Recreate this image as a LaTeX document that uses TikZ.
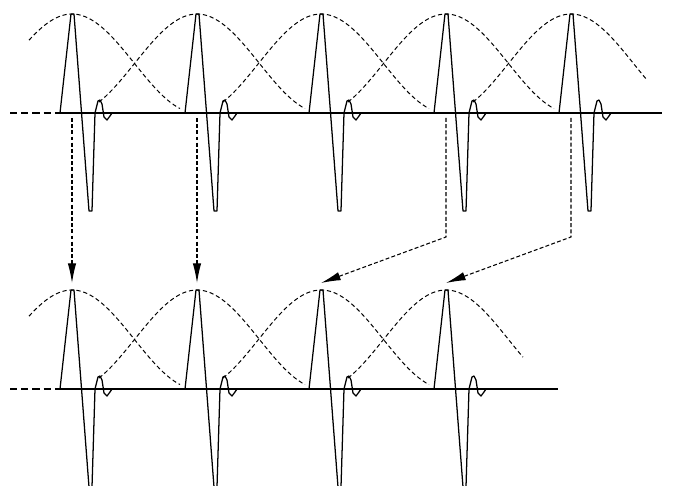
\documentclass[tikz,border=0pt]{standalone}
\usetikzlibrary{arrows.meta}

\begin{document}
\begin{tikzpicture}[
    x=0.025cm, y=0.025cm,
    pulse/.style={line width=0.9pt, line join=round},
    window/.style={line width=0.7pt, dash pattern=on 3pt off 2pt},
    axis/.style={line width=0.9pt},
    axisdash/.style={axis, dash pattern=on 5pt off 3pt},
    shiftline/.style={line width=0.75pt, dash pattern=on 2.8pt off 1.6pt, -{Latex[length=14pt,width=6pt]}},
    pics/wavelet/.style={code={
        \draw[pulse] (-12,0) -- (-1,99) -- (2,99) -- (17,-98) -- (20,-98) -- (23,0)
            -- (26,12) -- (28,13) -- (30,9) -- (32,-4) -- (35,-7) -- (38,-3) -- (40,0);
    }}
]
    \clip (0,0) rectangle (687,486);

    % Baselines
    \draw[axisdash] (10,373) -- (59,373);
    \draw[axis] (59,373) -- (662,373);
    \draw[axisdash] (10,97) -- (59,97);
    \draw[axis] (59,97) -- (558,97);

    % Upper row: windows and pulses
    \foreach \c/\a/\b [count=\i] in {72/-43/108, 197/-98/108, 321/-98/108, 446/-98/108, 571/-98/76} {
        \draw[window] plot[domain=\a:\b, samples=60] ({\c+\x}, {373+49.5*(1+cos(1.44*\x))});
        \pic at (\c,373) {wavelet};
        \coordinate (src\i) at (\c,368);
        \coordinate (knee\i) at (\c,249);
    }

    % Lower row: windows and pulses
    \foreach \c/\a/\b [count=\i] in {72/-43/108, 197/-98/108, 321/-98/108, 446/-98/77} {
        \draw[window] plot[domain=\a:\b, samples=60] ({\c+\x}, {97+49.5*(1+cos(1.44*\x))});
        \pic at (\c,97) {wavelet};
        \coordinate (dst\i) at (\c,203);
    }

    % Arrows
    \draw[shiftline] (src1) -- (dst1);
    \draw[shiftline] (src2) -- (dst2);
    \draw[shiftline] (src4) -- (knee4) -- (dst3);
    \draw[shiftline] (src5) -- (knee5) -- (dst4);
\end{tikzpicture}
\end{document}
